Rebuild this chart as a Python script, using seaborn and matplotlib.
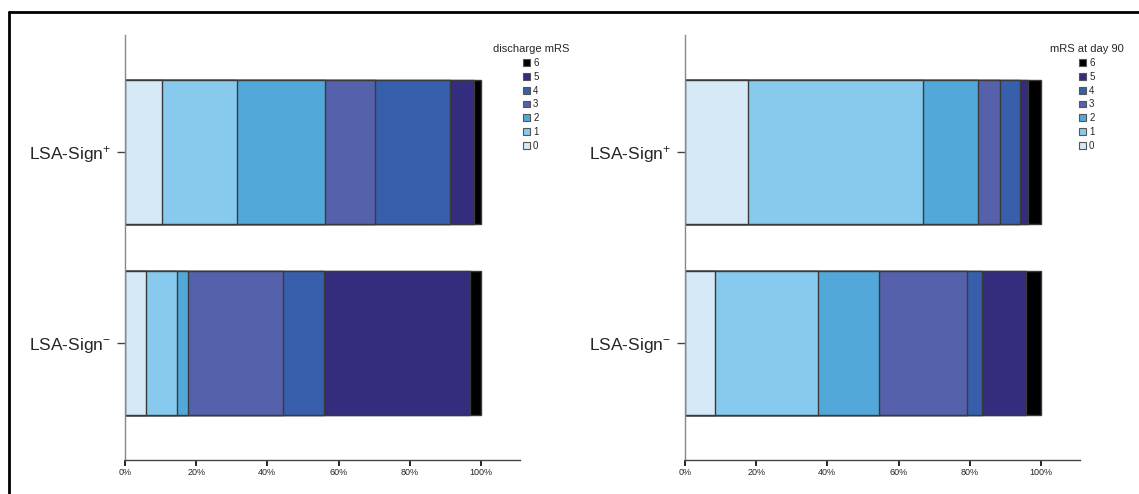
import numpy as np
import pandas as pd
import matplotlib
matplotlib.use("Agg")
import matplotlib.pyplot as plt
from matplotlib.patches import Patch
from matplotlib.lines import Line2D
import seaborn as sns

groups = ["LSA-Sign$^{+}$", "LSA-Sign$^{-}$"]
mrs_levels = ["0", "1", "2", "3", "4", "5", "6"]
mrs_colors = ["#d5e9f7", "#88caee", "#53a8da", "#5561aa", "#375fac", "#342c7c", "#000000"]

discharge_pos = [10.5, 21.0, 24.6, 14.1, 21.2, 6.7, 1.9]
discharge_neg = [5.9, 8.8, 3.0, 26.6, 11.7, 41.0, 3.0]
day90_pos = [17.8, 49.0, 15.5, 6.1, 5.8, 2.1, 3.7]
day90_neg = [8.5, 29.0, 16.9, 24.9, 4.1, 12.5, 4.1]

xticks = [0, 20, 40, 60, 80, 100]
xticklabels = ["0%", "20%", "40%", "60%", "80%", "100%"]

sns.set_style("ticks")
plt.rcParams["font.family"] = ["Liberation Sans", "DejaVu Sans"]
plt.rcParams["mathtext.fontset"] = "custom"
plt.rcParams["mathtext.rm"] = "Liberation Sans"
plt.rcParams["mathtext.it"] = "Liberation Sans"
plt.rcParams["mathtext.bf"] = "Liberation Sans:bold"
plt.rcParams["mathtext.default"] = "regular"


def long_df(pos, neg):
    rows = []
    for g, vals in zip(groups, [pos, neg]):
        cum = np.cumsum(vals)
        for lvl, v, c in zip(mrs_levels, vals, cum):
            rows.append({"group": g, "level": lvl, "value": v, "cum": c})
    return pd.DataFrame(rows)


fig = plt.figure(figsize=(11.39, 4.94), dpi=100)
W, H = 1139, 494
ax_l = fig.add_axes([125 / W, 1 - 460 / H, 395 / W, 425 / H])
ax_r = fig.add_axes([685 / W, 1 - 460 / H, 395 / W, 425 / H])

panels = [(ax_l, discharge_pos, discharge_neg, "discharge mRS", 531),
          (ax_r, day90_pos, day90_neg, "mRS at day 90", 1087)]

for ax, pos, neg, title, lx in panels:
    df = long_df(pos, neg)
    for lvl, col in reversed(list(zip(mrs_levels, mrs_colors))):
        sub = df[df["level"] == lvl]
        sns.barplot(data=sub, x="cum", y="group", order=groups, orient="h",
                    color=col, saturation=1, width=0.75, errorbar=None,
                    edgecolor="#3a3a3a", linewidth=1.0, ax=ax)
    ax.set_xlim(0, 111)
    ax.set_ylim(1.61, -0.61)
    ax.set_xticks(xticks)
    ax.set_xticklabels(xticklabels, fontsize=6.5)
    ax.set_xlabel("")
    ax.set_ylabel("")
    ax.set_yticks([0, 1])
    ax.set_yticklabels(groups, fontsize=12.5)
    ax.tick_params(axis="x", length=4, width=1.2, color="black", pad=2)
    ax.tick_params(axis="y", length=6, width=1.0, color="#444444", pad=4)
    sns.despine(ax=ax)
    ax.spines["left"].set_color("#888888")
    ax.spines["left"].set_linewidth(1.0)
    ax.spines["bottom"].set_color("#444444")
    ax.spines["bottom"].set_linewidth(1.0)

    handles = [Patch(facecolor=c, edgecolor="#555555", linewidth=0.8, label=l)
               for l, c in reversed(list(zip(mrs_levels, mrs_colors)))]
    leg = ax.legend(handles=handles, title=title, frameon=False, fontsize=7,
                    title_fontsize=8, loc="upper center",
                    bbox_to_anchor=(lx / W, 1 - 39 / H),
                    bbox_transform=fig.transFigure,
                    handlelength=0.7, handleheight=0.7, handletextpad=0.3,
                    labelspacing=0.4, borderpad=0)

# outer frame (top and left edges)
fig.add_artist(Line2D([9 / W, 1.0], [1 - 12 / H, 1 - 12 / H], color="black",
                      linewidth=2, transform=fig.transFigure))
fig.add_artist(Line2D([9 / W, 9 / W], [0, 1 - 12 / H], color="black",
                      linewidth=2, transform=fig.transFigure))

fig.savefig("out.png", dpi=100)
